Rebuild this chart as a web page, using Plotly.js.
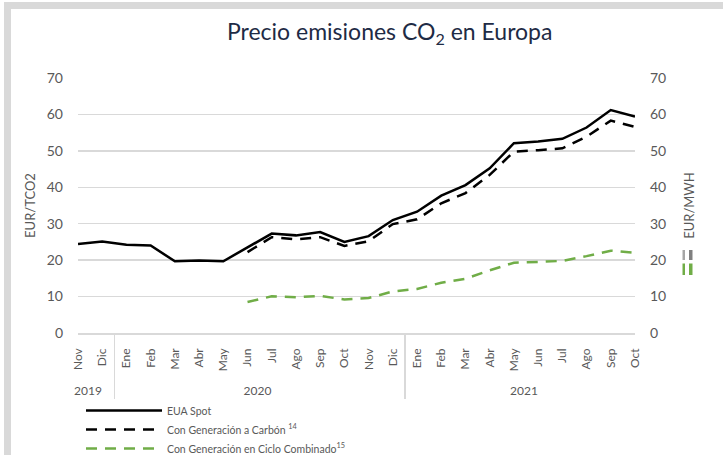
<!DOCTYPE html>
<html>
<head>
<meta charset="utf-8">
<script src="https://cdn.plot.ly/plotly-3.0.1.min.js"></script>
<style>html,body{margin:0;padding:0;background:#fff;}#chart{width:723px;height:455px;}</style>
</head>
<body>
<div id="chart"></div>
<script>
const years = ["2019","2019","2020","2020","2020","2020","2020","2020","2020","2020","2020","2020","2020","2020","2021","2021","2021","2021","2021","2021","2021","2021","2021","2021"];
const months = ["Nov","Dic","Ene","Feb","Mar","Abr","May","Jun","Jul","Ago","Sep","Oct","Nov","Dic","Ene","Feb","Mar","Abr","May","Jun","Jul","Ago","Sep","Oct"];
const euaSpot = [24.4,25.1,24.2,24.0,19.7,19.9,19.7,23.5,27.3,26.8,27.7,25.0,26.6,31.0,33.3,37.7,40.6,45.2,52.1,52.6,53.3,56.4,61.2,59.4];
const carbon = [null,null,null,null,null,null,null,22.2,26.3,25.7,26.3,23.9,25.2,29.9,31.2,35.6,38.4,43.4,49.8,50.2,50.7,53.9,58.3,56.6];
const cicloComb = [null,null,null,null,null,null,null,8.5,10.1,9.8,10.2,9.2,9.6,11.4,12.1,13.8,14.9,17.2,19.3,19.5,19.8,21.1,22.6,22.0];

// make repeated month names distinct (invisible suffix) so multicategory keeps chronological order;
// trailing no-break spaces leave a gap between the rotated labels and the axis line
const seen = {};
const monthLabels = months.map(m => {
  const n = seen[m] || 0; seen[m] = n + 1;
  return m + "\u200b".repeat(n) + "\u00a0\u00a0\u00a0";
});
const X = [years, monthLabels];
const gray = "#595959";
const grid = "#d9d9d9";

const traces = [
  {x: X, y: euaSpot, type: "scatter", mode: "lines", name: "EUA Spot",
   line: {color: "#000000", width: 2.5}},
  {x: X, y: carbon, type: "scatter", mode: "lines", name: "Con Generación a Carbón <sup>14</sup>", yaxis: "y2",
   line: {color: "#000000", width: 2.5, dash: "11px,8px"}},
  {x: X, y: cicloComb, type: "scatter", mode: "lines", name: "Con Generación en Ciclo Combinado<sup>15</sup>", yaxis: "y2",
   line: {color: "#70ad47", width: 2.5, dash: "11px,8px"}}
];

function px2x(p){ return (p - 78) / 557; }
function px2y(p){ return (333 - p) / 255; }
function rect(x0, x1, y0, y1, color){
  return {type: "rect", xref: "paper", yref: "paper", x0: px2x(x0), x1: px2x(x1), y0: px2y(y1), y1: px2y(y0),
          fillcolor: color, line: {width: 0}, layer: "above"};
}

const layout = {
  width: 723, height: 455,
  margin: {l: 78, r: 88, t: 78, b: 122, pad: 0, autoexpand: false},
  paper_bgcolor: "#ffffff", plot_bgcolor: "#ffffff",
  font: {family: "Lato, 'Open Sans', sans-serif", color: gray},
  title: {text: "Precio emisiones CO<sub>2</sub> en Europa", x: 0.539, xanchor: "center", y: 0.93, yanchor: "middle",
          font: {family: "Lato, sans-serif", size: 23, color: "#1e2b45"}},
  showlegend: true,
  legend: {orientation: "v", x: px2x(81), xanchor: "left", yref: "container", y: 1 - 396/455, yanchor: "top",
           font: {size: 10.5, color: gray}, itemwidth: 76, tracegroupgap: 0, bgcolor: "rgba(0,0,0,0)"},
  xaxis: {type: "multicategory", tickangle: -90, tickfont: {size: 12, color: gray}, automargin: false,
          showline: true, linecolor: grid, linewidth: 1.5, showgrid: false, ticks: "",
          showdividers: true, dividercolor: grid, dividerwidth: 1.5},
  yaxis: {range: [0, 70], dtick: 10, tickfont: {size: 14, color: gray}, gridcolor: grid, gridwidth: 1.5,
          zeroline: false, showline: false, ticklabelstandoff: 14, automargin: false,
          title: {text: "EUR/TCO2", font: {size: 13, color: gray}, standoff: 8}},
  yaxis2: {range: [0, 70], dtick: 10, overlaying: "y", side: "right", showgrid: false, zeroline: false,
           tickfont: {size: 14, color: gray}, ticklabelstandoff: 14, automargin: false,
           title: {text: "EUR/MWH", font: {size: 13, color: gray}, standoff: 19}},
  shapes: [
    rect(4, 11, 2, 455, grid),
    rect(4, 723, 2, 9, grid),
    rect(682.5, 685, 250, 260, "#a6a6a6"),
    rect(689, 692.5, 250, 260, "#808080"),
    rect(682.5, 685, 263.5, 275, "#70ad47"),
    rect(689, 692.5, 263.5, 275, "#70ad47")
  ]
};

Plotly.newPlot("chart", traces, layout, {displayModeBar: false, staticPlot: true});
</script>
</body>
</html>
